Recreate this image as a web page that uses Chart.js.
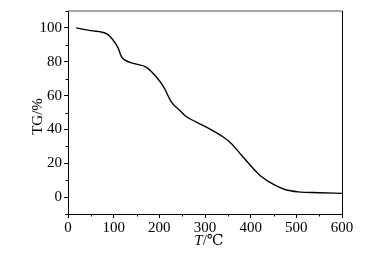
<!DOCTYPE html>
<html>
<head>
<meta charset="utf-8">
<script src="https://cdn.jsdelivr.net/npm/chart.js@4"></script>
<style>
  html, body { margin: 0; padding: 0; background: #fff; }
  #wrap { width: 370px; height: 263px; }
</style>
</head>
<body>
<div id="wrap"><canvas id="tgChart" width="370" height="263"></canvas></div>
<script>
// TG curve
const temps = [18, 50, 85, 99, 110, 117, 125, 143, 172, 194, 209, 227, 245, 256, 300, 340, 358, 380, 409, 424, 453, 475, 504, 550, 600];
const tgValues = [100, 98.4, 96.5, 92.7, 88, 83, 81, 79, 76.7, 70.8, 65.3, 56, 51.2, 48.2, 41.8, 35.5, 31.6, 24.7, 15.9, 12, 7, 4.5, 3.1, 2.6, 2.2];
const xTicks = [0, 100, 200, 300, 400, 500, 600];
const yTicks = [0, 20, 40, 60, 80, 100];

const serif = "'Liberation Serif', 'DejaVu Serif', serif";

// draws the gray top line, minor ticks and the axis titles
const extras = {
  id: "extras",
  afterDraw(chart) {
    const ctx = chart.ctx;
    const area = chart.chartArea;
    const xs = chart.scales.x;
    const ys = chart.scales.y;
    ctx.save();
    ctx.strokeStyle = "#888";
    ctx.lineWidth = 1.5;
    ctx.beginPath();
    ctx.moveTo(area.left, area.top);
    ctx.lineTo(area.right, area.top);
    ctx.stroke();

    ctx.strokeStyle = "#000";
    ctx.lineWidth = 1;
    ctx.beginPath();
    ctx.moveTo(area.right + 0.5, area.top);
    ctx.lineTo(area.right + 0.5, area.bottom);
    for (let v = 50; v < 600; v += 100) {
      const px = Math.round(xs.getPixelForValue(v)) + 0.5;
      ctx.moveTo(px, area.bottom);
      ctx.lineTo(px, area.bottom + 2.5);
    }
    for (let v = -10; v <= 110; v += 20) {
      const py = Math.round(ys.getPixelForValue(v)) + 0.5;
      ctx.moveTo(area.left, py);
      ctx.lineTo(area.left - 2.5, py);
    }
    ctx.stroke();

    ctx.fillStyle = "#000";
    ctx.font = "15px " + serif;
    ctx.textBaseline = "middle";
    // y title
    ctx.save();
    ctx.translate(38, (area.top + area.bottom) / 2 + 4);
    ctx.rotate(-Math.PI / 2);
    ctx.textAlign = "center";
    ctx.fillText("TG/%", 0, 0);
    ctx.restore();
    // x title with italic T
    ctx.font = "italic 15px " + serif;
    const tW = ctx.measureText("T").width;
    ctx.font = "15px " + serif;
    const restW = ctx.measureText("/℃").width;
    let sx = (area.left + area.right) / 2 - (tW + restW) / 2 + 4;
    const ty = 241;
    ctx.textAlign = "left";
    ctx.font = "italic 15px " + serif;
    ctx.fillText("T", sx, ty);
    ctx.font = "15px " + serif;
    ctx.fillText("/℃", sx + tW, ty);
    ctx.restore();
  },
};

new Chart(document.getElementById("tgChart"), {
  type: "scatter",
  data: {
    datasets: [
      {
        data: temps.map((t, i) => ({ x: t, y: tgValues[i] })),
        showLine: true,
        borderColor: "#000",
        borderWidth: 1.4,
        pointRadius: 0,
        cubicInterpolationMode: "monotone",
      },
    ],
  },
  options: {
    responsive: false,
    animation: false,
    layout: { padding: { left: 0, top: 10, right: 28, bottom: 0 } },
    plugins: { legend: { display: false }, tooltip: { enabled: false } },
    scales: {
      x: {
        type: "linear",
        min: 0,
        max: 600,
        afterFit: (scale) => { scale.height = 49; },
        afterBuildTicks: (scale) => { scale.ticks = xTicks.map((v) => ({ value: v })); },
        grid: { drawOnChartArea: false, drawTicks: true, tickLength: 4, color: "#000" },
        border: { display: true, color: "#000", width: 1 },
        ticks: { color: "#000", font: { family: serif, size: 15 }, padding: 1, maxRotation: 0 },
      },
      y: {
        min: -10,
        max: 110,
        afterFit: (scale) => { scale.width = 68; },
        afterBuildTicks: (scale) => { scale.ticks = yTicks.map((v) => ({ value: v })); },
        grid: { drawOnChartArea: false, drawTicks: true, tickLength: 4, color: "#000" },
        border: { display: true, color: "#000", width: 1 },
        ticks: { color: "#000", font: { family: serif, size: 15 }, padding: 2 },
      },
    },
  },
  plugins: [extras],
});
</script>
</body>
</html>
